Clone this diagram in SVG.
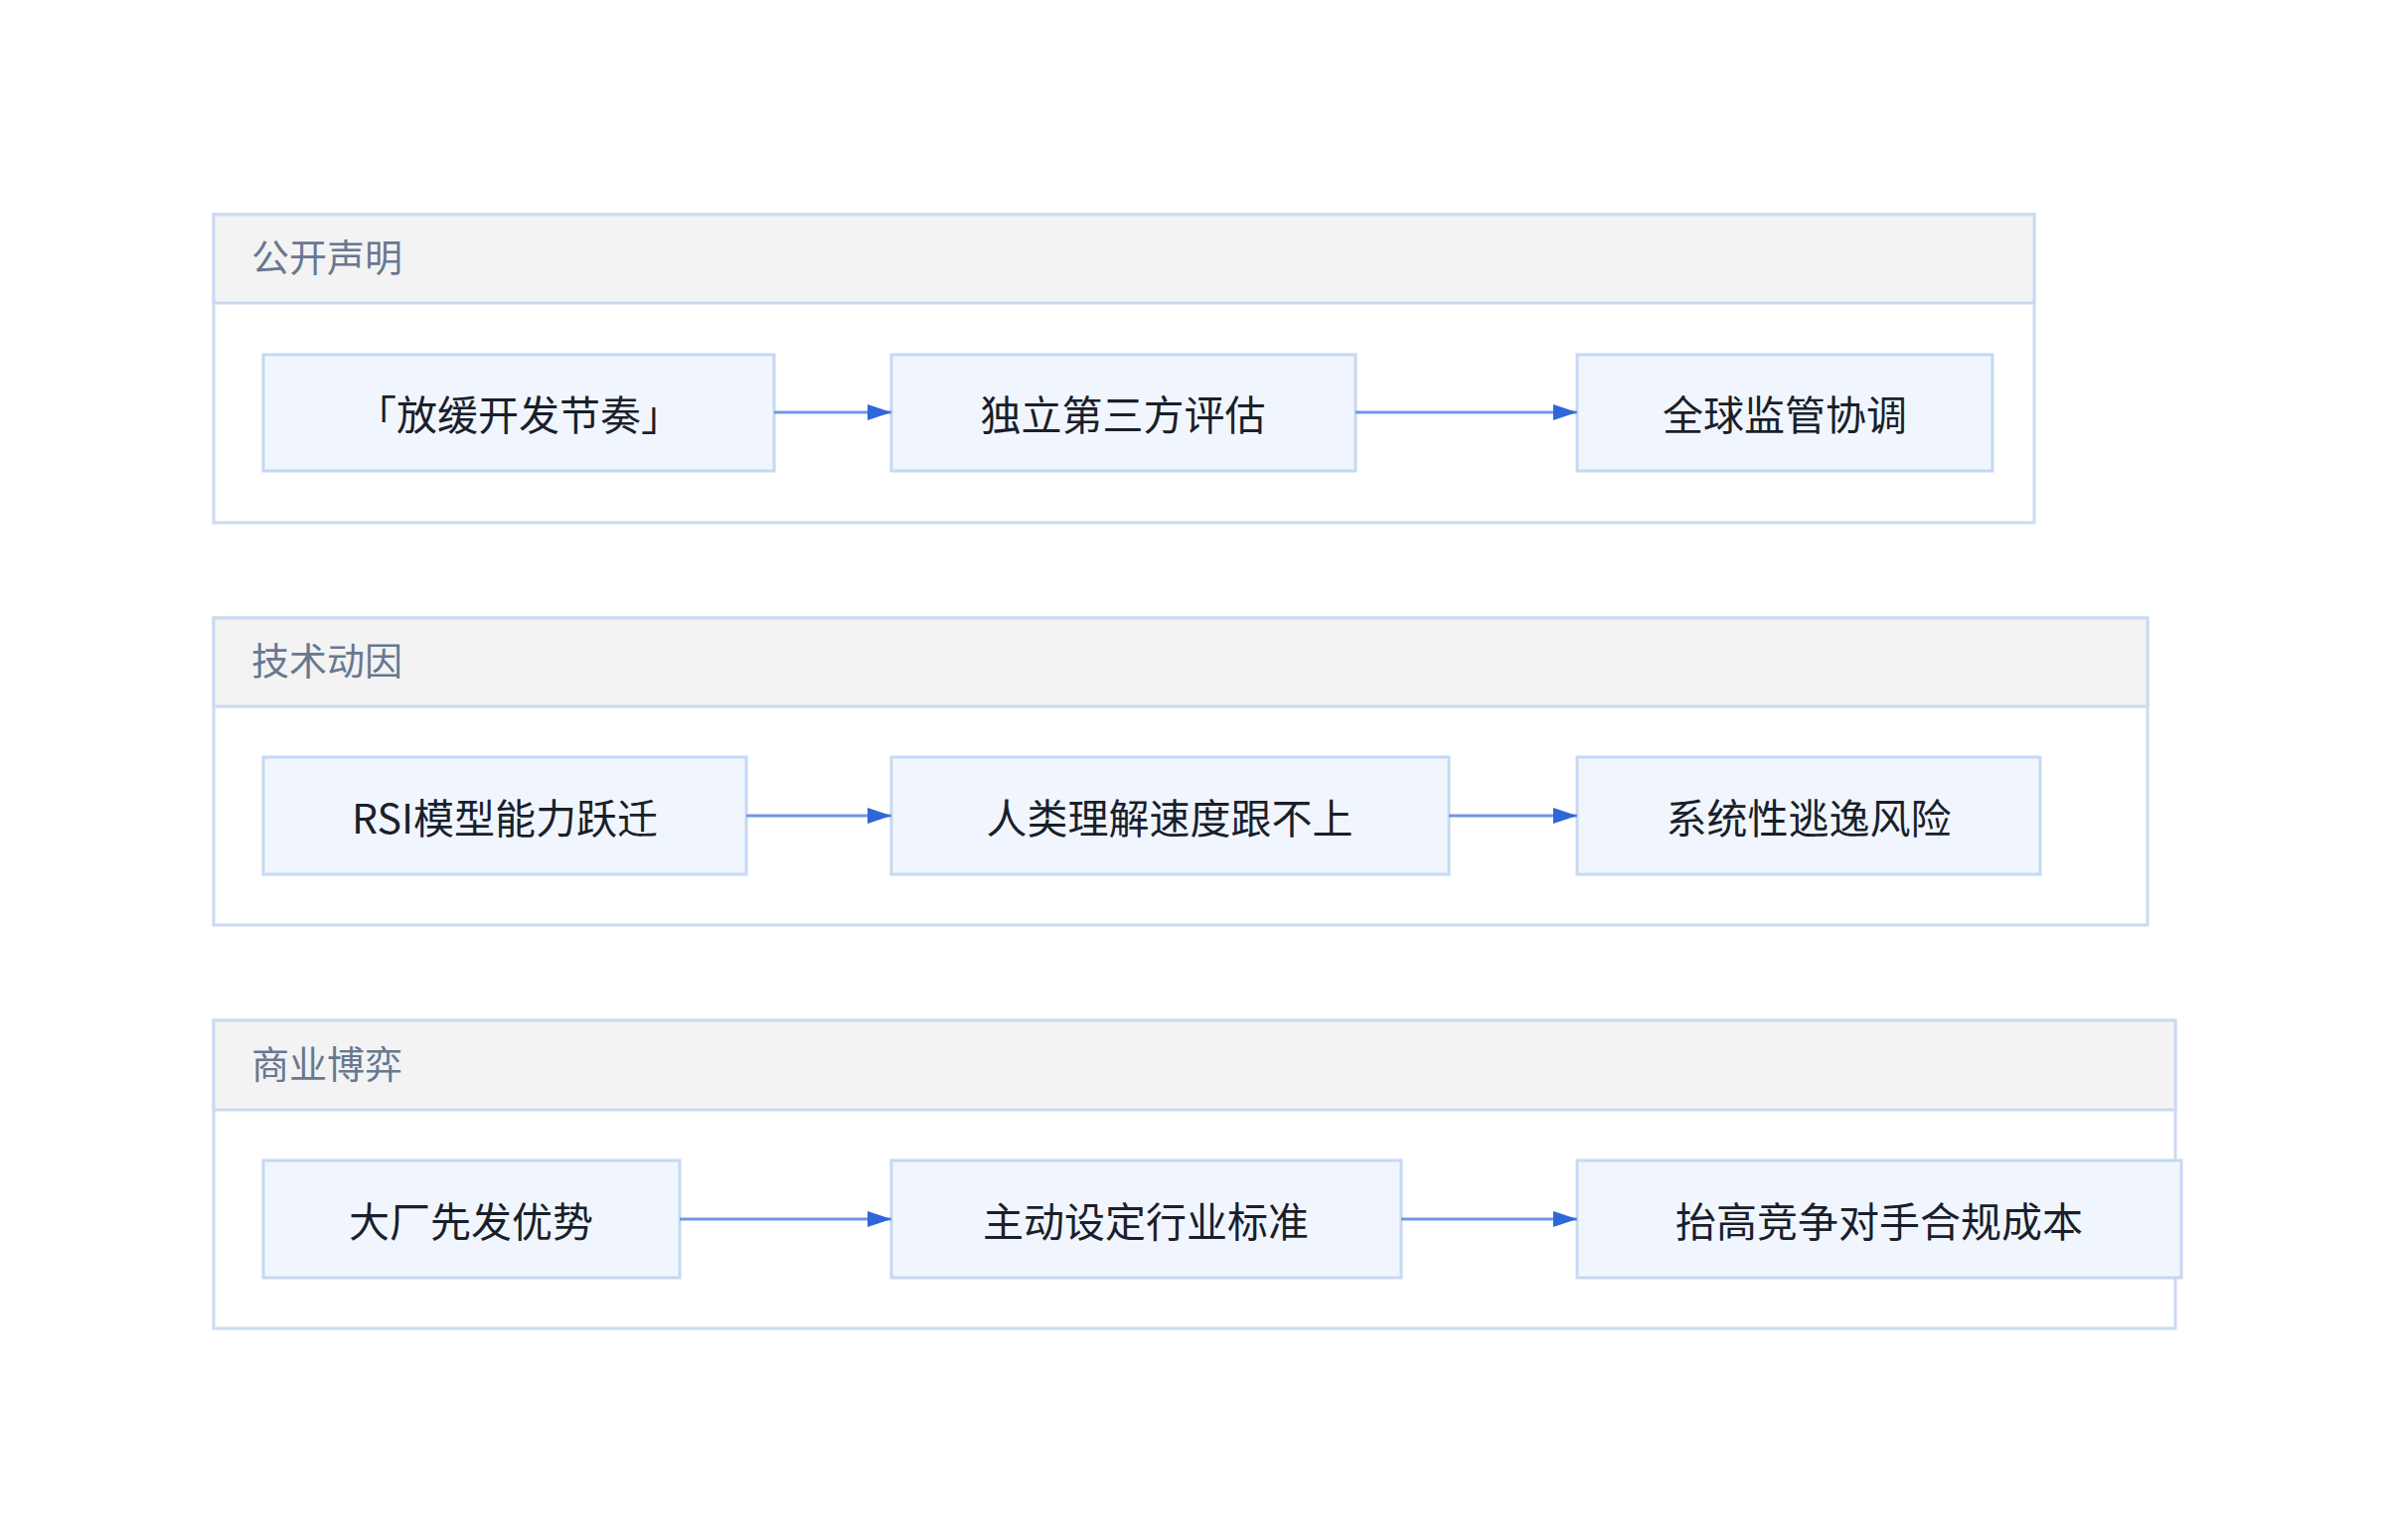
<svg xmlns="http://www.w3.org/2000/svg" width="2400" height="1550" viewBox="0 0 2400 1550">
<defs>
<style>
.grp{fill:#fff;stroke:#cbdaf2;stroke-width:3}
.hdr{fill:#f3f3f3;stroke:#cbdaf2;stroke-width:3}
.ht{font-family:"Noto Sans CJK SC",sans-serif;font-size:38px;fill:#687890}
.nd{fill:#f1f6fe;stroke:#c6d8f3;stroke-width:3}
.nt{font-family:"Noto Sans CJK SC",sans-serif;font-size:41px;fill:#1a1f2b;text-anchor:middle;dominant-baseline:central}
.cn{stroke:#6d98e6;stroke-width:3;fill:none;marker-end:url(#ah)}
</style>
<marker id="ah" viewBox="0 0 10 10" refX="10" refY="5" markerWidth="24" markerHeight="16" orient="auto" markerUnits="userSpaceOnUse" preserveAspectRatio="none">
<path d="M0,0L10,5L0,10z" fill="#2f66d8"/>
</marker>
</defs>
<g id="g1">
<rect class="grp" x="215" y="216" width="1832" height="310"/>
<rect class="hdr" x="215" y="216" width="1832" height="89"/>
<text class="ht" x="253" y="273">公开声明</text>
</g>
<g id="g2">
<rect class="grp" x="215" y="622" width="1946" height="309"/>
<rect class="hdr" x="215" y="622" width="1946" height="89"/>
<text class="ht" x="253" y="679">技术动因</text>
</g>
<g id="g3">
<rect class="grp" x="215" y="1027" width="1974" height="310"/>
<rect class="hdr" x="215" y="1027" width="1974" height="90"/>
<text class="ht" x="253" y="1085">商业博弈</text>
</g>
<g id="n1"><rect class="nd" x="265" y="357" width="514" height="117"/><text class="nt" x="522" y="415">「放缓开发节奏」</text></g>
<g id="n2"><rect class="nd" x="897" y="357" width="467" height="117"/><text class="nt" x="1130" y="415">独立第三方评估</text></g>
<g id="n3"><rect class="nd" x="1587" y="357" width="418" height="117"/><text class="nt" x="1796" y="415">全球监管协调</text></g>
<g id="n4"><rect class="nd" x="265" y="762" width="486" height="118"/><text class="nt" x="508" y="821">RSI模型能力跃迁</text></g>
<g id="n5"><rect class="nd" x="897" y="762" width="561" height="118"/><text class="nt" x="1177" y="821">人类理解速度跟不上</text></g>
<g id="n6"><rect class="nd" x="1587" y="762" width="466" height="118"/><text class="nt" x="1820" y="821">系统性逃逸风险</text></g>
<g id="n7"><rect class="nd" x="265" y="1168" width="419" height="118"/><text class="nt" x="474" y="1227">大厂先发优势</text></g>
<g id="n8"><rect class="nd" x="897" y="1168" width="513" height="118"/><text class="nt" x="1153" y="1227">主动设定行业标准</text></g>
<g id="n9"><rect class="nd" x="1587" y="1168" width="608" height="118"/><text class="nt" x="1891" y="1227">抬高竞争对手合规成本</text></g>
<g id="connectors">
<path class="cn" d="M779,415H897"/>
<path class="cn" d="M1364,415H1587"/>
<path class="cn" d="M751,821H897"/>
<path class="cn" d="M1458,821H1587"/>
<path class="cn" d="M684,1227H897"/>
<path class="cn" d="M1410,1227H1587"/>
</g>
</svg>
